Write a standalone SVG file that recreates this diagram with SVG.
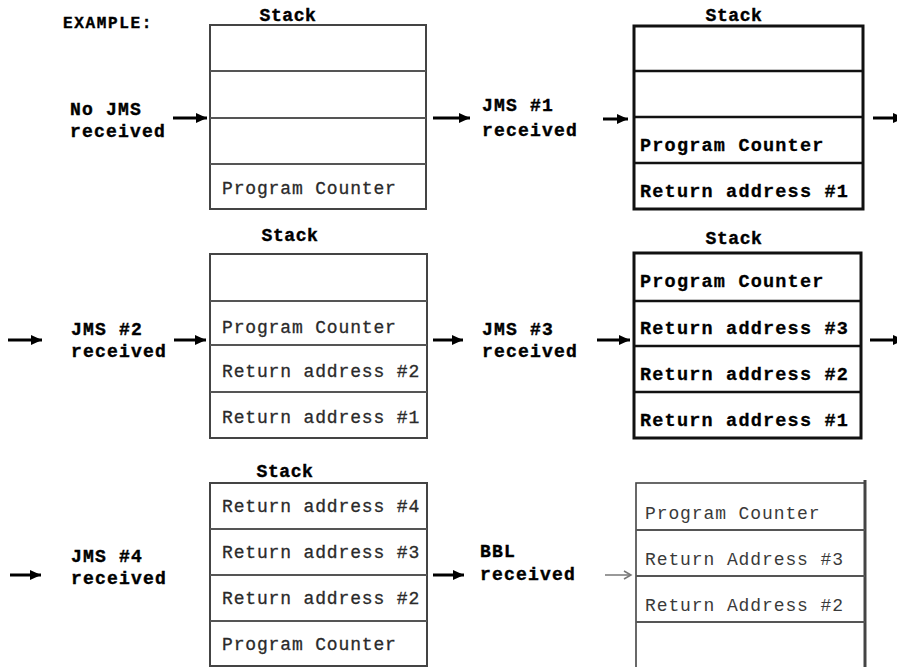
<svg xmlns="http://www.w3.org/2000/svg" width="897" height="667" viewBox="0 0 897 667">
  <style>
    .lbl { font-family: "Liberation Mono", "Courier New", monospace; font-weight: bold; font-size: 18px; letter-spacing: 1.2px; fill: #000; stroke: #000; stroke-width: 0.4; }
    .ttl { font-family: "Liberation Mono", "Courier New", monospace; font-weight: bold; font-size: 18px; letter-spacing: 0.6px; fill: #000; stroke: #000; stroke-width: 0.4; text-anchor: middle; }
    .cell { font-family: "Liberation Mono", "Courier New", monospace; font-size: 18px; letter-spacing: 0.85px; fill: #2a2a2a; stroke: #2a2a2a; stroke-width: 0.3; }
    .cellb { font-family: "Liberation Mono", "Courier New", monospace; font-weight: bold; font-size: 18.5px; letter-spacing: 1.2px; fill: #000; stroke: #000; stroke-width: 0.3; }
    .cellt { font-family: "Liberation Mono", "Courier New", monospace; font-size: 18px; letter-spacing: 0.9px; fill: #3a3a3a; }
    .box { fill: #fff; stroke: #444; stroke-width: 2; }
    .boxb { fill: #fff; stroke: #111; stroke-width: 3; }
    .sep { stroke: #555; stroke-width: 1.8; }
    .sepb { stroke: #111; stroke-width: 2.5; }
    .arr { stroke: #000; stroke-width: 3; fill: none; marker-end: url(#head); }
    .arrt { stroke: #777; stroke-width: 1.5; fill: none; marker-end: url(#headt); }
  </style>
  <defs>
    <marker id="head" markerUnits="userSpaceOnUse" markerWidth="12" markerHeight="10" refX="11" refY="5" orient="auto">
      <path d="M0,0 L11,5 L0,10 z" fill="#000"/>
    </marker>
    <marker id="headt" markerUnits="userSpaceOnUse" markerWidth="10" markerHeight="10" refX="8" refY="5" orient="auto">
      <path d="M1,1 L8,5 L1,9" fill="none" stroke="#777" stroke-width="1.5"/>
    </marker>
  </defs>

  <rect width="897" height="667" fill="#fff"/>

  <text class="lbl" x="63" y="28" style="font-size:16px;letter-spacing:1.65px">EXAMPLE:</text>

  <!-- step labels -->
  <g id="lbl-nojms">
    <text class="lbl" x="70" y="115">No JMS</text>
    <text class="lbl" x="70" y="137">received</text>
  </g>
  <g id="lbl-jms1">
    <text class="lbl" x="482" y="111">JMS #1</text>
    <text class="lbl" x="482" y="136">received</text>
  </g>
  <g id="lbl-jms2">
    <text class="lbl" x="71" y="335">JMS #2</text>
    <text class="lbl" x="71" y="357">received</text>
  </g>
  <g id="lbl-jms3">
    <text class="lbl" x="482" y="335">JMS #3</text>
    <text class="lbl" x="482" y="357">received</text>
  </g>
  <g id="lbl-jms4">
    <text class="lbl" x="71" y="562">JMS #4</text>
    <text class="lbl" x="71" y="584">received</text>
  </g>
  <g id="lbl-bbl">
    <text class="lbl" x="480" y="557">BBL</text>
    <text class="lbl" x="480" y="580">received</text>
  </g>

  <!-- stack 1: idle -->
  <g id="stack1">
    <text class="ttl" x="288" y="21">Stack</text>
    <rect class="box" x="210" y="25" width="216" height="184"/>
    <line class="sep" x1="210" y1="71" x2="426" y2="71"/>
    <line class="sep" x1="210" y1="118" x2="426" y2="118"/>
    <line class="sep" x1="210" y1="164" x2="426" y2="164"/>
    <text class="cell" x="222" y="194">Program Counter</text>
  </g>

  <!-- stack 2: after JMS #1 -->
  <g id="stack2">
    <text class="ttl" x="734" y="21">Stack</text>
    <rect class="boxb" x="634" y="26" width="229" height="183"/>
    <line class="sepb" x1="634" y1="71" x2="863" y2="71"/>
    <line class="sepb" x1="634" y1="117" x2="863" y2="117"/>
    <line class="sepb" x1="634" y1="163" x2="863" y2="163"/>
    <text class="cellb" x="640" y="151">Program Counter</text>
    <text class="cellb" x="640" y="197">Return address #1</text>
  </g>

  <!-- stack 3: after JMS #2 -->
  <g id="stack3">
    <text class="ttl" x="290" y="241">Stack</text>
    <rect class="box" x="210" y="254" width="217" height="184"/>
    <line class="sep" x1="210" y1="301" x2="427" y2="301"/>
    <line class="sep" x1="210" y1="345" x2="427" y2="345"/>
    <line class="sep" x1="210" y1="392" x2="427" y2="392"/>
    <text class="cell" x="222" y="333">Program Counter</text>
    <text class="cell" x="222" y="377">Return address #2</text>
    <text class="cell" x="222" y="423">Return address #1</text>
  </g>

  <!-- stack 4: after JMS #3 -->
  <g id="stack4">
    <text class="ttl" x="734" y="244">Stack</text>
    <rect class="boxb" x="634" y="253" width="227" height="185"/>
    <line class="sepb" x1="634" y1="301" x2="861" y2="301"/>
    <line class="sepb" x1="634" y1="346" x2="861" y2="346"/>
    <line class="sepb" x1="634" y1="392" x2="861" y2="392"/>
    <text class="cellb" x="640" y="287">Program Counter</text>
    <text class="cellb" x="640" y="334">Return address #3</text>
    <text class="cellb" x="640" y="380">Return address #2</text>
    <text class="cellb" x="640" y="426">Return address #1</text>
  </g>

  <!-- stack 5: after JMS #4 (oldest entry overwritten) -->
  <g id="stack5">
    <text class="ttl" x="285" y="477">Stack</text>
    <rect class="box" x="210" y="483" width="217" height="183"/>
    <line class="sep" x1="210" y1="529" x2="427" y2="529"/>
    <line class="sep" x1="210" y1="575" x2="427" y2="575"/>
    <line class="sep" x1="210" y1="621" x2="427" y2="621"/>
    <text class="cell" x="222" y="512">Return address #4</text>
    <text class="cell" x="222" y="558">Return address #3</text>
    <text class="cell" x="222" y="604">Return address #2</text>
    <text class="cell" x="222" y="650">Program Counter</text>
  </g>

  <!-- stack 6: after BBL -->
  <g id="stack6">
    <rect class="box" x="636" y="483" width="229" height="190" style="stroke-width:1.6"/>
    <line x1="865" y1="480" x2="865" y2="667" stroke="#444" stroke-width="3"/>
    <line class="sep" x1="636" y1="530" x2="865" y2="530"/>
    <line class="sep" x1="636" y1="576" x2="865" y2="576"/>
    <line class="sep" x1="636" y1="622" x2="865" y2="622"/>
    <text class="cellt" x="645" y="519">Program Counter</text>
    <text class="cellt" x="645" y="565">Return Address #3</text>
    <text class="cellt" x="645" y="611">Return Address #2</text>
  </g>

  <!-- connectors -->
  <g id="connectors">
    <line class="arr" x1="173" y1="118" x2="207" y2="118"/>
    <line class="arr" x1="433" y1="118" x2="470" y2="118"/>
    <line class="arr" x1="603" y1="119" x2="628" y2="119"/>
    <line class="arr" x1="873" y1="118" x2="904" y2="118"/>

    <line class="arr" x1="8" y1="340" x2="42" y2="340"/>
    <line class="arr" x1="174" y1="340" x2="206" y2="340"/>
    <line class="arr" x1="433" y1="340" x2="463" y2="340"/>
    <line class="arr" x1="597" y1="340" x2="630" y2="340"/>
    <line class="arr" x1="870" y1="340" x2="904" y2="340"/>

    <line class="arr" x1="10" y1="575" x2="41" y2="575"/>
    <line class="arr" x1="433" y1="575" x2="464" y2="575"/>
    <line class="arrt" x1="605" y1="575" x2="631" y2="575"/>
  </g>
</svg>
